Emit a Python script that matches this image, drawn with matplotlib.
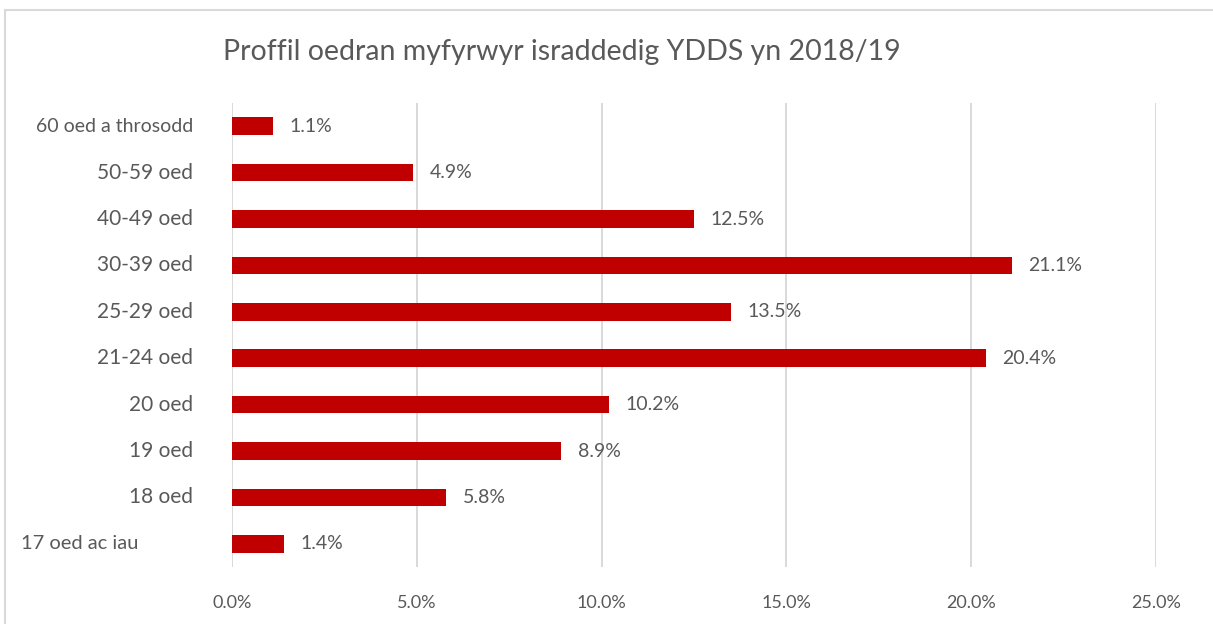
import matplotlib
matplotlib.use("Agg")
import matplotlib.pyplot as plt
from matplotlib.patches import Rectangle

age_groups = ["17 oed ac iau", "18 oed", "19 oed", "20 oed", "21-24 oed",
              "25-29 oed", "30-39 oed", "40-49 oed", "50-59 oed", "60 oed a throsodd"]
shares = [1.4, 5.8, 8.9, 10.2, 20.4, 13.5, 21.1, 12.5, 4.9, 1.1]
x_ticks = [0, 5, 10, 15, 20, 25]

plt.rcParams['font.family'] = ['Lato', 'DejaVu Sans']
grey_text = "#595959"
bar_red = "#C00000"

fig = plt.figure(figsize=(12.13, 6.24), dpi=100)
ax = fig.add_axes([0.1913, 0.0913, 0.7617, 0.7436])

y = list(range(len(age_groups)))
ax.barh(y, shares, height=0.38, color=bar_red, zorder=3)

for yi, v in zip(y, shares):
    ax.text(v + 0.45, yi, f"{v:.1f}%", va="center", ha="left",
            fontsize=14, color=grey_text)

# category labels drawn by hand (the first and last sit a bit differently)
for yi, lab in zip(y, age_groups):
    if lab == "17 oed ac iau":
        ax.text(-0.2283, yi, lab, transform=ax.get_yaxis_transform(),
                ha="left", va="center", fontsize=14.5, color=grey_text)
    elif lab == "60 oed a throsodd":
        ax.text(-0.042, yi, lab, transform=ax.get_yaxis_transform(),
                ha="right", va="center", fontsize=14, color=grey_text)
    else:
        ax.text(-0.042, yi, lab, transform=ax.get_yaxis_transform(),
                ha="right", va="center", fontsize=15, color=grey_text)

ax.set_xlim(0, 25)
ax.set_ylim(-0.5, len(age_groups) - 0.5)
ax.set_xticks(x_ticks)
ax.set_xticklabels([f"{t:.1f}%" for t in x_ticks], fontsize=13, color=grey_text)
ax.set_yticks([])
ax.tick_params(axis="x", length=0, pad=20)
ax.grid(axis="x", color="#D9D9D9", linewidth=1.4, zorder=0)
for s in ax.spines.values():
    s.set_visible(False)

fig.text(0.463, 0.917, "Proffil oedran myfyrwyr israddedig YDDS yn 2018/19",
         ha="center", va="center", fontsize=20.5, color=grey_text)

fig.patches.append(Rectangle((5 / 1213, -0.1), 1.2, 1 - 10 / 624 + 0.1,
                             transform=fig.transFigure, fill=False,
                             edgecolor="#D9D9D9", linewidth=1.5))

fig.savefig("out.png", dpi=100)
